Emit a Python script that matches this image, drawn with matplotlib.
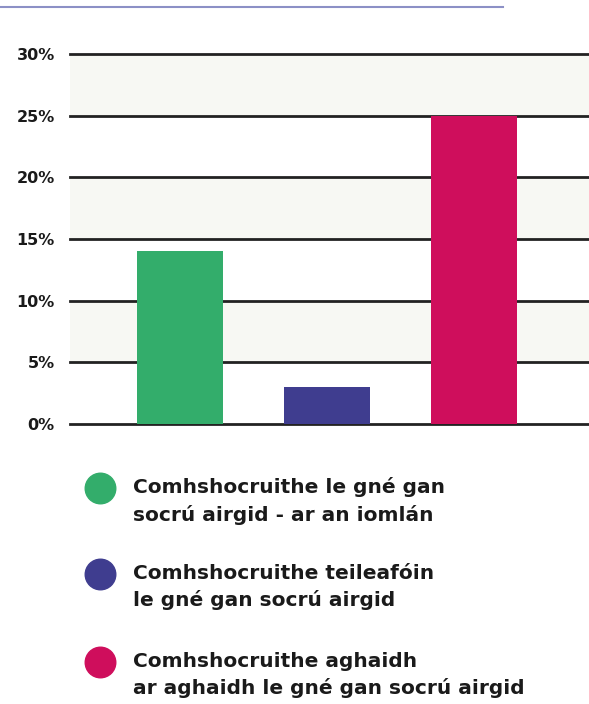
import matplotlib.pyplot as plt
from matplotlib.lines import Line2D

# Дані
categories = [
    "Comhshocruithe le gné gan\nsocrú airgid - ar an iomlán",
    "Comhshocruithe teileafóin\nle gné gan socrú airgid",
    "Comhshocruithe aghaidh\nar aghaidh le gné gan socrú airgid",
]
values = [14, 3, 25]
colors = ["#33ad6b", "#3f3d8f", "#cf0e5c"]
yticks = [0, 5, 10, 15, 20, 25, 30]
ytick_labels = ["0%", "5%", "10%", "15%", "20%", "25%", "30%"]

fig = plt.figure(figsize=(5.89, 7.04), dpi=100)
ax = fig.add_axes([70 / 589, 1 - 424 / 704, 519 / 589, 370 / 704])

# Смуги фону
for lo in (5, 15, 25):
    ax.axhspan(lo, lo + 5, color="#f7f8f3", zorder=0, lw=0)
for t in yticks:
    ax.axhline(t, color="#222222", lw=2.0, zorder=1, clip_on=False)

x = range(len(values))
ax.bar(x, values, width=0.585, color=colors, zorder=2)

ax.set_xlim(-0.748, 2.782)
ax.set_ylim(0, 30)
ax.set_yticks(yticks)
ax.set_yticklabels(ytick_labels, fontsize=11.5, fontweight="heavy", family="DejaVu Sans",
                   color="#1a1a1a")
ax.tick_params(axis="y", length=0, pad=11)
ax.set_xticks([])
for s in ax.spines.values():
    s.set_visible(False)
ax.patch.set_alpha(0)

# Верхня лінія
fig.add_artist(Line2D([0, 503 / 589], [1 - 7 / 704] * 2, color="#8c90c6", lw=1.5,
                      transform=fig.transFigure))

# Легенда
leg_y = [488, 574, 662]
for label, c, y in zip(categories, colors, leg_y):
    fig.add_artist(Line2D([100 / 589], [1 - y / 704], marker="o", markersize=22,
                          color=c, lw=0, transform=fig.transFigure))
    fig.text(133 / 589, 1 - (y + 13) / 704, label, fontsize=14.5, fontweight="bold",
             family="DejaVu Sans", linespacing=1.45, va="center", ha="left", color="#1a1a1a")

fig.savefig("out.png", dpi=100)
